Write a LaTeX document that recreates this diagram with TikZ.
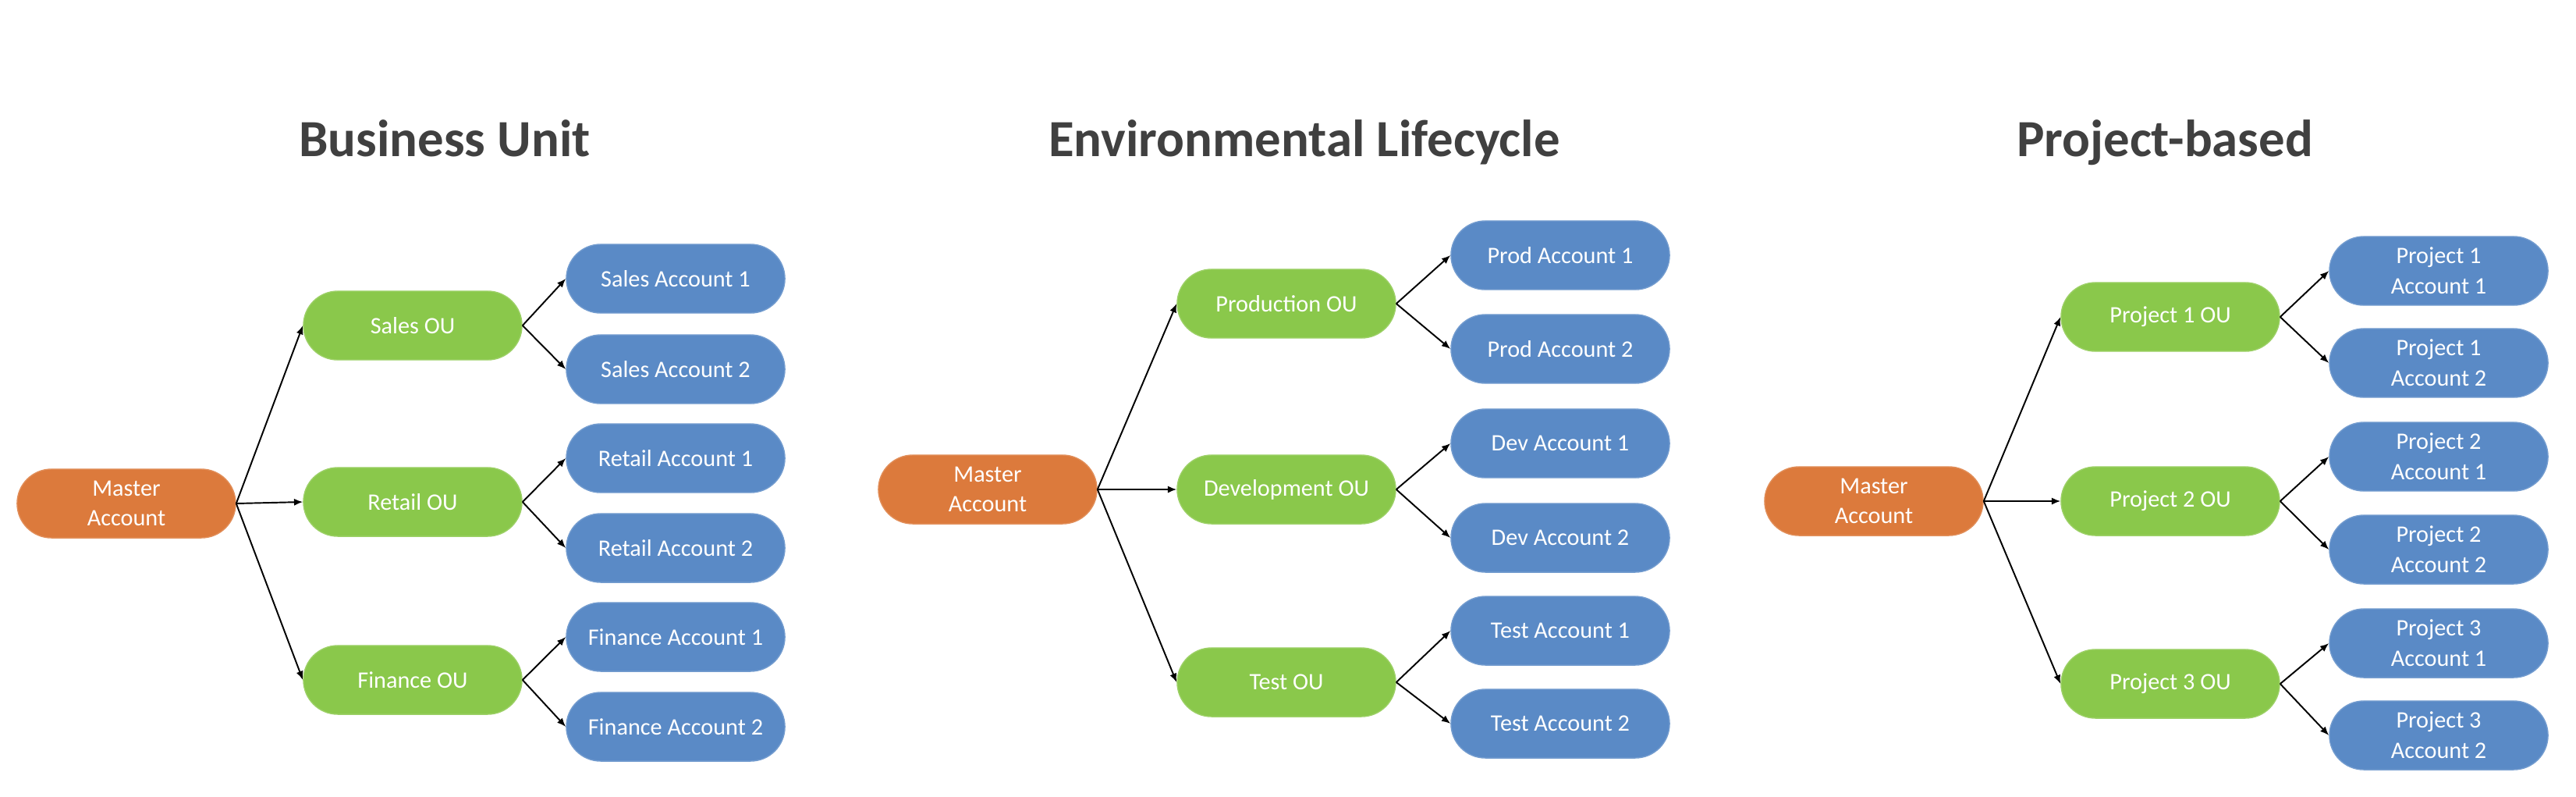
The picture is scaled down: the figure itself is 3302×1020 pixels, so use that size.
\documentclass[tikz,border=0pt]{standalone}
\usepackage{fontspec}
\setmainfont{Carlito}
\usetikzlibrary{arrows.meta}
\definecolor{masterorange}{HTML}{DC7A3C}
\definecolor{ougreen}{HTML}{8AC84B}
\definecolor{acctblue}{HTML}{5A8AC6}
\definecolor{titlegray}{HTML}{404040}

\begin{document}
\begin{tikzpicture}[x=0.01cm,y=-0.01cm,>={Latex[length=3.2pt,width=2.6pt]},
  font=\fontsize{8.6}{11}\selectfont,
  box/.style={rectangle,rounded corners=0.44cm,minimum width=2.8cm,minimum height=0.88cm,
    inner sep=1pt,align=center,text=white},
  master/.style={box,fill=masterorange,draw=masterorange!85!white},
  ou/.style={box,fill=ougreen,draw=ougreen!85!white},
  acct/.style={box,fill=acctblue,draw=acctblue!85!white},
  title/.style={anchor=base,text=titlegray,font=\fontsize{19}{23}\bfseries\selectfont},
  link/.style={->,line width=0.55pt,black}]
\useasboundingbox (0,0) rectangle (3302,1020);

% Business Unit
\node[title] (t1) at (570,200) {Business Unit};
\node[master] (m1) at (162,645) {Master\\Account};
\foreach \n/\y/\lbl in {1/417/Sales OU,2/643/Retail OU,3/871/Finance OU} {
  \node[ou] (ou1-\n) at (529,\y) {\lbl};
  \draw[link] (m1.east) -- (ou1-\n.west);
}
\foreach \n/\k/\y/\lbl in {1/1/357/Sales Account 1,1/2/473/Sales Account 2,
    2/1/587/Retail Account 1,2/2/702/Retail Account 2,
    3/1/816/Finance Account 1,3/2/931/Finance Account 2} {
  \node[acct] (a1-\n-\k) at (866,\y) {\lbl};
  \draw[link] (ou1-\n.east) -- (a1-\n-\k.west);
}

% Environmental Lifecycle
\node[title] (t2) at (1672,200) {Environmental Lifecycle};
\node[master] (m2) at (1266,627) {Master\\Account};
\foreach \n/\y/\lbl in {1/389/Production OU,2/627/Development OU,3/874/Test OU} {
  \node[ou] (ou2-\n) at (1649,\y) {\lbl};
  \draw[link] (m2.east) -- (ou2-\n.west);
}
\foreach \n/\k/\y/\lbl in {1/1/327/Prod Account 1,1/2/447/Prod Account 2,
    2/1/568/Dev Account 1,2/2/689/Dev Account 2,
    3/1/808/Test Account 1,3/2/927/Test Account 2} {
  \node[acct] (a2-\n-\k) at (2000,\y) {\lbl};
  \draw[link] (ou2-\n.east) -- (a2-\n-\k.west);
}

% Project-based
\node[title] (t3) at (2775,200) {Project-based};
\node[master] (m3) at (2402,642) {Master\\Account};
\foreach \n/\y in {1/406,2/642,3/876} {
  \node[ou] (ou3-\n) at (2782,\y) {Project \n\ OU};
  \draw[link] (m3.east) -- (ou3-\n.west);
}
\foreach \n/\k/\y in {1/1/347,1/2/465,2/1/585,2/2/704,3/1/824,3/2/942} {
  \node[acct] (a3-\n-\k) at (3126,\y) {Project \n\\Account \k};
  \draw[link] (ou3-\n.east) -- (a3-\n-\k.west);
}
\end{tikzpicture}
\end{document}
